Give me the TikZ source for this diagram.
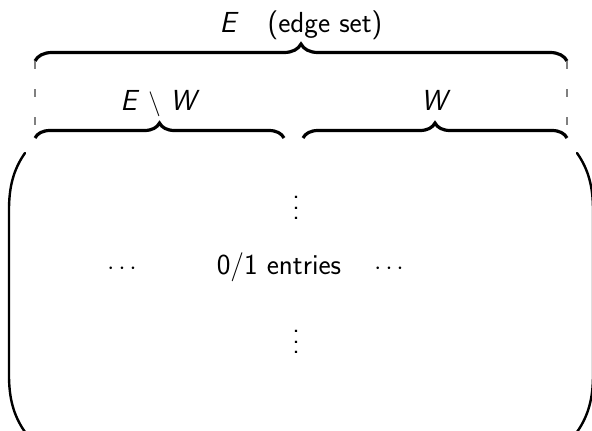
\documentclass[tikz,border=0pt]{standalone}
\usepackage{fontspec}
\usepackage{graphicx}
\usetikzlibrary{decorations.pathreplacing}
\newcommand{\tallvdots}{\scalebox{2.7}{\fontsize{10}{12}\selectfont\sffamily
  \vbox{\baselineskip4pt\lineskiplimit0pt\hbox{.}\hbox{.}\hbox{.}}}}
\begin{document}
\begin{tikzpicture}[x=1pt,y=-1pt,
  lbl/.style={font=\fontsize{29}{34}\selectfont\sffamily, inner sep=0pt, anchor=base},
  bigbrace/.style={decorate, decoration={brace, amplitude=#1}, line width=3.2pt},
  guide/.style={draw=gray, line width=1.3pt, dash pattern=on 8pt off 20pt},
  paren/.style={line width=2.4pt, line cap=round}]
\useasboundingbox (0,0) rectangle (592,431);

% set labels
\node[lbl] (eset) at (301,32) {\textit{E}\hspace{1em}(edge set)};
\node[lbl] (ew) at (160,110) {\textit{E} $\setminus$ \textit{W}};
\node[lbl] (w) at (436,110) {\textit{W}};

% brace end points
\coordinate (tl) at (35,61);
\coordinate (tr) at (567,61);
\coordinate (bl) at (35,138);
\coordinate (bm1) at (284,138);
\coordinate (bm2) at (303,138);
\coordinate (br) at (567,138);

\draw[bigbrace=17pt] (tl) -- (tr);
\draw[bigbrace=15pt] (bl) -- (bm1);
\draw[bigbrace=15pt] (bm2) -- (br);
\draw[guide] (tl) -- (bl);
\draw[guide] (tr) -- (br);

% matrix delimiters
\draw[paren] (25,153) .. controls (13,170) and (9,188) .. (9,210) -- (9,375)
  .. controls (9,397) and (13,415) .. (25,432);
\draw[paren] (577,153) .. controls (589,170) and (593,188) .. (593,210) -- (593,375)
  .. controls (593,397) and (589,415) .. (577,432);

% matrix entries
\node[inner sep=0pt] (vtop) at (296,208) {\tallvdots};
\node[lbl] (hleft) at (122,274) {$\cdots$};
\node[lbl] (mid) at (279,274) {0/1 entries};
\node[lbl] (hright) at (389,274) {$\cdots$};
\node[inner sep=0pt] (vbot) at (296,342) {\tallvdots};
\end{tikzpicture}
\end{document}
